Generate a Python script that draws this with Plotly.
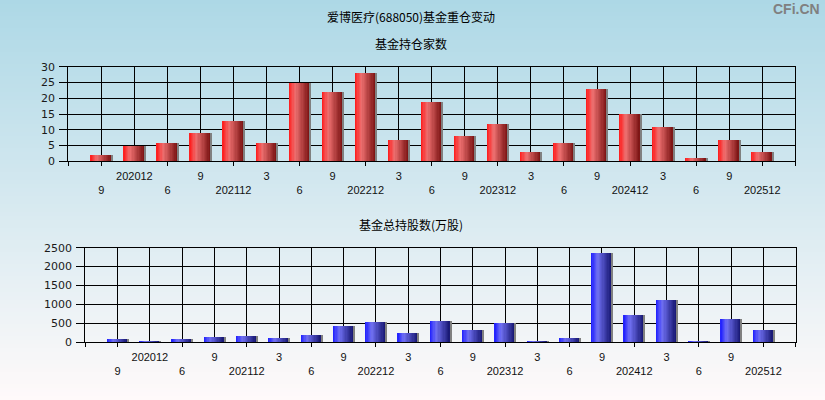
import plotly.graph_objects as go

# ---------------- data ----------------
periods = ["202009", "202012", "202106", "202109", "202112", "202203", "202206",
           "202209", "202212", "202303", "202306", "202309", "202312", "202403",
           "202406", "202409", "202412", "202503", "202506", "202509", "202512"]
holders = [2, 5, 6, 9, 13, 6, 25, 22, 28, 7, 19, 8, 12, 3, 6, 23, 15, 11, 1, 7, 3]
shares = [105, 35, 88, 140, 176, 114, 194, 431, 537, 246, 563, 326, 510, 35,
          114, 2359, 722, 1118, 35, 616, 326]

title_main = "爱博医疗(688050)基金重仓变动"
title_top = "基金持仓家数"
title_bot = "基金总持股数(万股)"

idx = list(range(len(periods)))


def short_label(p):
    return p if p.endswith("12") else str(int(p[4:]))


labels = [short_label(p) for p in periods]
row1_vals = [i for i in idx if i % 2 == 1]
row1_text = [labels[i] for i in row1_vals]
tick_marks = [-1] + [i for i in idx if i % 2 == 0] + [len(idx)]

W, H = 825, 400
fig = go.Figure()

# ---------------- gradient bars (built from thin slices) ----------------
N = 16
BAR_W = 0.62
SHADOW_W = 0.045


def interp(stops, t):
    for (t0, c0), (t1, c1) in zip(stops[:-1], stops[1:]):
        if t0 <= t <= t1:
            f = (t - t0) / (t1 - t0) if t1 > t0 else 0
            return tuple(int(round(a + (b - a) * f)) for a, b in zip(c0, c1))
    return stops[-1][1]


red_stops = [(0.0, (255, 25, 25)), (0.32, (238, 112, 112)), (1.0, (122, 18, 18))]
blue_stops = [(0.0, (28, 28, 255)), (0.32, (112, 112, 242)), (1.0, (22, 22, 112))]


def add_bars(yvals, xa, ya, stops):
    sw = BAR_W / N
    for k in range(N):
        t = (k + 0.5) / N
        c = interp(stops, t)
        fig.add_trace(go.Bar(
            x=idx, y=yvals, xaxis=xa, yaxis=ya,
            width=sw + 0.004, offset=-BAR_W / 2 + k * sw,
            marker=dict(color="rgb(%d,%d,%d)" % c, line=dict(width=0)),
            hoverinfo="skip", showlegend=False))
    fig.add_trace(go.Bar(
        x=idx, y=yvals, xaxis=xa, yaxis=ya,
        width=SHADOW_W, offset=BAR_W / 2,
        marker=dict(color="rgb(128,128,128)", line=dict(width=0)),
        hoverinfo="skip", showlegend=False))


add_bars(holders, "x", "y", red_stops)
add_bars(shares, "x2", "y2", blue_stops)

# invisible helper traces so the second label rows get drawn
fig.add_trace(go.Scatter(x=idx, y=holders, xaxis="x3", yaxis="y", mode="markers",
                         marker=dict(opacity=0), hoverinfo="skip", showlegend=False))
fig.add_trace(go.Scatter(x=idx, y=shares, xaxis="x4", yaxis="y2", mode="markers",
                         marker=dict(opacity=0), hoverinfo="skip", showlegend=False))

# ---------------- layout ----------------
top_x = [68.3 / W, 795.3 / W]
top_y = [1 - 161.3 / H, 1 - 66.7 / H]
bot_x = [85.3 / W, 795.7 / W]
bot_y = [1 - 342.3 / H, 1 - 247.7 / H]

xfont = dict(family="Liberation Sans, Arial, sans-serif", size=11, color="#111111")
yfont = dict(family="DejaVu Sans, Verdana, sans-serif", size=11, color="#1a1a1a")
GRID = "#000000"
GW = 1.3
ROW1 = 4
ROW2 = 21


def xaxis_main(domain, anchor):
    return dict(domain=domain, anchor=anchor, range=[-1, 21], automargin=False,
                tickmode="array", tickvals=row1_vals, ticktext=row1_text,
                ticks="", showgrid=False, zeroline=False,
                showline=True, mirror=True, linecolor="black", linewidth=1.3,
                tickfont=xfont, ticklabelstandoff=ROW1,
                minor=dict(tickmode="array", tickvals=tick_marks,
                           ticks="outside", ticklen=4, tickcolor="black",
                           tickwidth=1, showgrid=False))


def xaxis_over(over, anchor):
    return dict(overlaying=over, anchor=anchor, range=[-1, 21], automargin=False,
                tickmode="array", tickvals=idx,
                ticktext=[labels[i] if i % 2 == 0 else "" for i in idx],
                ticks="", showgrid=True, gridcolor=GRID, gridwidth=GW,
                zeroline=False, showline=False, side="bottom",
                tickfont=xfont, ticklabelstandoff=ROW2)


def yaxis(domain, anchor, rng, dtick):
    return dict(domain=domain, anchor=anchor, range=rng, automargin=False,
                tickmode="linear", tick0=0, dtick=dtick,
                showgrid=True, gridcolor=GRID, gridwidth=GW,
                ticks="outside", ticklen=8, tickcolor="black", tickwidth=1,
                showline=True, mirror=True, linecolor="black", linewidth=1.3,
                zeroline=False, tickfont=yfont, ticklabelstandoff=2)


# background gradient
shapes = []
NB = 100
top_c = (173, 216, 230)
bot_c = (255, 250, 250)
for i in range(NB):
    f = (i + 0.5) / NB
    c = tuple(int(round(a + (b - a) * f)) for a, b in zip(top_c, bot_c))
    shapes.append(dict(type="rect", xref="paper", yref="paper", layer="below",
                       x0=0, x1=1, y0=1 - (i + 1) / NB - 0.002, y1=1 - i / NB,
                       fillcolor="rgb(%d,%d,%d)" % c, line=dict(width=0)))

cjk = "Noto Sans CJK SC, sans-serif"
annotations = [
    dict(text=title_main, x=411 / W, y=1 - 17 / H, xref="paper", yref="paper",
         showarrow=False, xanchor="center", yanchor="middle",
         font=dict(family=cjk, size=12, color="#000000")),
    dict(text=title_top, x=411 / W, y=1 - 43 / H, xref="paper", yref="paper",
         showarrow=False, xanchor="center", yanchor="middle",
         font=dict(family=cjk, size=12, color="#000000")),
    dict(text=title_bot, x=411 / W, y=1 - 224 / H, xref="paper", yref="paper",
         showarrow=False, xanchor="center", yanchor="middle",
         font=dict(family=cjk, size=12, color="#000000")),
    dict(text="<b>CFi.CN</b>", x=822 / W, y=1 - 9 / H, xref="paper", yref="paper",
         showarrow=False, xanchor="right", yanchor="middle",
         font=dict(family="Liberation Sans, Arial, sans-serif", size=14,
                   color="#808080")),
]

fig.update_layout(
    width=W, height=H, autosize=False,
    margin=dict(l=0, r=0, t=0, b=0, pad=0, autoexpand=False),
    paper_bgcolor="rgb(255,250,250)", plot_bgcolor="rgba(0,0,0,0)",
    barmode="overlay", bargap=0,
    showlegend=False,
    xaxis=xaxis_main(top_x, "y"),
    xaxis3=xaxis_over("x", "y"),
    yaxis=yaxis(top_y, "x", [0, 30], 5),
    xaxis2=xaxis_main(bot_x, "y2"),
    xaxis4=xaxis_over("x2", "y2"),
    yaxis2=yaxis(bot_y, "x2", [0, 2500], 500),
    shapes=shapes,
    annotations=annotations,
    hovermode=False,
)

fig.write_html("out.html", config={"displayModeBar": False},
               post_script="document.body.style.margin='0';document.body.style.padding='0';")
